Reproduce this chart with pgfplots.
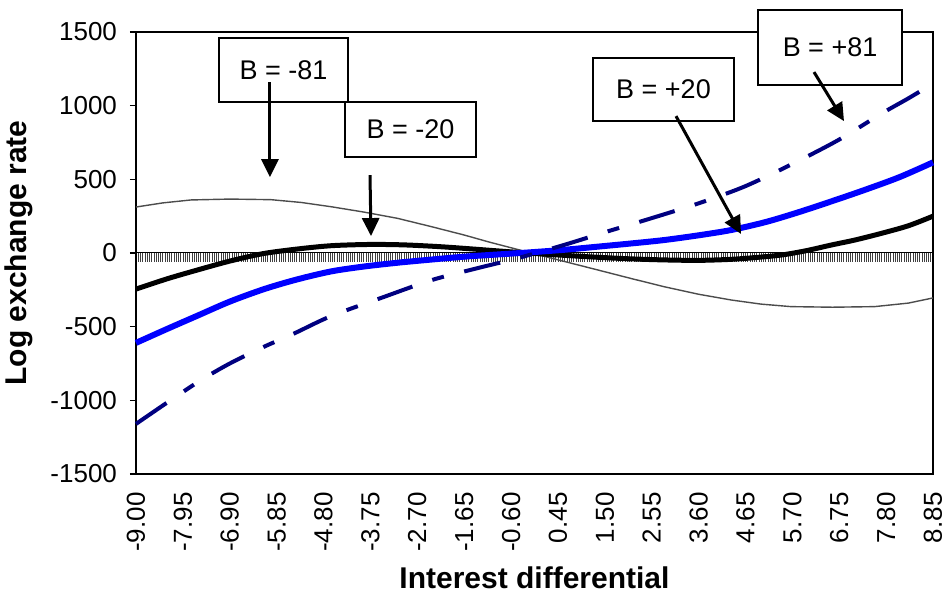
\documentclass[border=0pt]{standalone}
\usepackage{pgfplots}
\pgfplotsset{compat=1.18}
\usepackage{fontspec}
\setmainfont{Liberation Sans}
\usetikzlibrary{arrows.meta}
\definecolor{navyc}{RGB}{0,0,128}
\definecolor{bluec}{RGB}{0,0,255}
\begin{document}
\begin{tikzpicture}
\path[use as bounding box] (-68pt,-62.5pt) rectangle (406pt,237pt);
% zero axis with dense category ticks
\begin{axis}[scale only axis, width=398.5pt, height=221pt,
  xmin=-9, xmax=8.85, ymin=-1500, ymax=1500,
  axis x line=middle, axis y line=none,
  axis line style={-, black, line width=0.5pt},
  xtick={-9,-8.95,...,8.86}, xticklabels={},
  tick align=outside, major tick length=4.5pt,
  x tick style={black!75, line width=0.3pt},
  ytick=\empty]
\end{axis}
\begin{axis}[scale only axis, width=398.5pt, height=221pt,
  xmin=-9, xmax=8.85, ymin=-1500, ymax=1500, clip=false,
  axis line style={black, line width=0.6pt},
  /pgf/number format/assume math mode=true,
  tick label style={font=\fontsize{13}{15}\selectfont},
  xtick={-9,-7.95,-6.9,-5.85,-4.8,-3.75,-2.7,-1.65,-0.6,0.45,1.5,2.55,3.6,4.65,5.7,6.75,7.8,8.85},
  xticklabels={-9.00,-7.95,-6.90,-5.85,-4.80,-3.75,-2.70,-1.65,-0.60,0.45,1.50,2.55,3.60,4.65,5.70,6.75,7.80,8.85},
  xticklabel style={rotate=90, anchor=east, inner sep=1pt, xshift=-5pt},
  x tick style={draw=none},
  ytick={-1500,-1000,-500,0,500,1000,1500},
  yticklabels={-1500,-1000,-500,0,500,1000,1500},
  ytick pos=left, xtick pos=bottom,
  y tick style={black, line width=0.6pt},
  tick align=outside, major tick length=3pt,
  yticklabel style={xshift=-3pt},
  xlabel={\fontsize{15}{17}\selectfont\bfseries Interest differential},
  ylabel={\fontsize{15}{17}\selectfont\bfseries Log exchange rate},
  xlabel style={at={(axis description cs:0.5,-0.235)}, anchor=center},
  ylabel style={at={(axis description cs:-0.147,0.5)}, anchor=center},
]
% B = -81
\addplot[black!70, line width=0.7pt] coordinates {
(-9,312) (-8.4,340) (-7.77,360) (-6.9,366) (-5.98,362) (-5.3,343) (-4.63,314) (-3.9,278) (-3.14,235) (-2.4,180) (-1.65,122) (-1.1,75) (-0.53,30) (-0.15,0) (0.6,-58) (1.34,-115) (2.1,-174) (2.83,-229) (3.6,-280) (4.33,-319) (5.0,-347) (5.67,-364) (6.6,-368) (7.54,-364) (8.3,-340) (8.85,-305)};
% B = -20
\addplot[black, line width=2.5pt, smooth] coordinates {
(-9,-245) (-8.3,-175) (-7.62,-115) (-6.9,-55) (-6.13,-3) (-5.3,30) (-4.6,50) (-3.75,58) (-3.0,55) (-2.2,43) (-1.5,28) (-0.8,12) (0,-5) (0.7,-18) (1.34,-29) (2.1,-40) (2.83,-47) (3.6,-50) (4.33,-43) (4.9,-30) (5.45,-14) (6.0,15) (6.57,54) (7.1,88) (7.69,133) (8.3,185) (8.85,250)};
% B = +20
\addplot[bluec, line width=3pt, smooth] coordinates {
(-9,-610) (-8.3,-515) (-7.62,-425) (-6.9,-330) (-6.13,-245) (-5.4,-180) (-4.63,-125) (-3.9,-92) (-3.14,-66) (-2.4,-45) (-1.65,-25) (-0.9,-10) (-0.15,5) (0.6,22) (1.34,43) (2.1,65) (2.83,88) (3.6,120) (4.33,156) (5.1,210) (5.82,275) (6.57,350) (7.31,427) (8.1,515) (8.85,615)};
% B = +81
\addplot[navyc, line width=2pt, smooth, dash pattern=on 18.5pt off 10.5pt on 6pt off 10.5pt] coordinates {
(-9,-1160) (-8.18,-990) (-7.54,-862) (-6.9,-750) (-6.13,-636) (-5.45,-545) (-4.63,-428) (-3.51,-305) (-2.39,-185) (-1.42,-108) (-0.45,-35) (0.59,55) (1.6,150) (2.5,232) (3.58,335) (4.62,450) (5.67,600) (6.72,765) (7.69,945) (8.3,1050) (8.85,1150)};
% annotation boxes
\node[draw=black, line width=0.7pt, fill=white, minimum width=64.5pt, minimum height=32pt, inner sep=0pt, font=\fontsize{13.5}{15}\selectfont] at (axis cs:-5.696,1241.5) {B = -81};
\node[draw=black, line width=0.7pt, fill=white, minimum width=65.5pt, minimum height=27.5pt, inner sep=0pt, font=\fontsize{13.5}{15}\selectfont] at (axis cs:-2.852,837.8) {B = -20};
\node[draw=black, line width=0.7pt, fill=white, minimum width=70.5pt, minimum height=31.5pt, inner sep=0pt, font=\fontsize{13.5}{15}\selectfont] at (axis cs:2.814,1109.2) {B = +20};
\node[draw=black, line width=0.7pt, fill=white, minimum width=72pt, minimum height=37.5pt, inner sep=0pt, font=\fontsize{13.5}{15}\selectfont] at (axis cs:6.544,1394.1) {B = +81};
% arrows
\draw[black, line width=1.5pt, -{Triangle[length=9pt,width=8.5pt]}] (axis cs:-6.0,1160) -- (axis cs:-6.0,515);
\draw[black, line width=1.5pt, -{Triangle[length=9pt,width=8.5pt]}] (axis cs:-3.759,529) -- (axis cs:-3.737,115);
\draw[black, line width=1.5pt, -{Triangle[length=9pt,width=8.5pt]}] (axis cs:3.094,929) -- (axis cs:4.55,129);
\draw[black, line width=1.5pt, -{Triangle[length=9pt,width=8.5pt]}] (axis cs:6.185,1228) -- (axis cs:6.857,895);
\end{axis}
\end{tikzpicture}
\end{document}
